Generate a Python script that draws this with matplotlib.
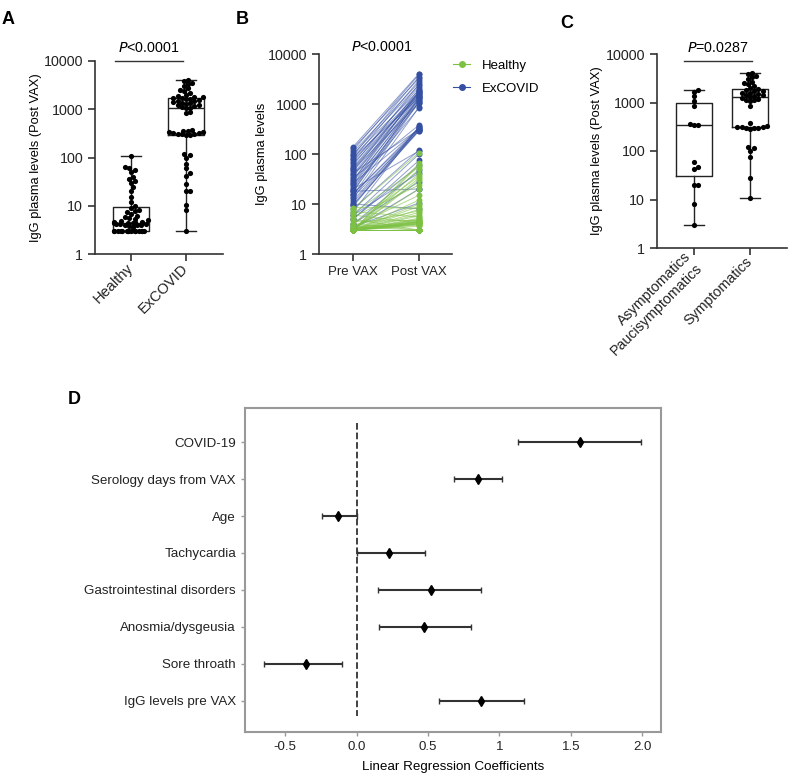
import numpy as np
import matplotlib.pyplot as plt
from matplotlib.lines import Line2D

plt.rcParams['font.family'] = ['Liberation Sans', 'DejaVu Sans']
plt.rcParams['font.size'] = 10

# ---------------- dados ----------------
# IgG pos-vacina, voluntarios saudaveis (ordem crescente)
healthy_post = [3, 3, 3, 3, 3, 3, 3, 3, 3, 3, 3, 3, 3, 3, 3, 3,
                3.6, 3.8, 3.9, 4.0, 4.0, 4.1, 4.2, 4.2, 4.3, 4.3, 4.4, 4.4,
                4.5, 4.6, 4.7, 4.8, 5.0, 5.2, 5.5, 5.8, 6.2, 6.8, 7.3, 7.8, 8.3, 9.0,
                10, 12, 15, 20, 24, 30, 33, 36, 40, 50, 55, 60, 65, 107]
healthy_pre = [3, 3, 3, 3, 3, 3, 3, 3, 3.5, 3, 3, 4, 3, 3, 5, 3,
               3, 3, 3, 3.2, 3, 3, 6, 3, 3, 3, 3.4, 3,
               3, 3, 4.5, 3, 3, 3, 7, 3, 3, 3, 3.8, 3, 8.5, 3,
               3, 3, 3.5, 3, 5.5, 3, 3, 4, 3, 3, 6.5, 3, 3, 8]

# ex-COVID: assintomaticos/paucissintomaticos e sintomaticos
asympt_post = [1810, 1670, 1360, 1070, 860, 355, 350, 340, 60, 47, 42, 20, 20, 8, 3]
asympt_pre = [30, 52, 18, 24, 13, 9, 7, 16, 5, 4, 6, 18, 3.2, 10, 3]
sympt_post = [4070, 3900, 3500, 3300, 3000, 2700, 2500, 2400, 2200, 2000,
              1900, 1800, 1750, 1700, 1600, 1550, 1500, 1450, 1400, 1350,
              1300, 1250, 1200, 1150, 1100, 1050, 850, 380, 330, 320,
              315, 310, 305, 300, 295, 290, 120, 115, 100, 75, 28, 10.5]
sympt_pre = [140, 120, 95, 130, 80, 110, 60, 100, 70, 45,
             90, 55, 35, 75, 40, 65, 30, 50, 25, 85,
             20, 38, 28, 18, 15, 48, 22, 33, 12, 26,
             16, 42, 11, 9.5, 14, 10, 8, 20, 6, 5, 4, 3.5]
excovid_post = asympt_post + sympt_post
excovid_pre = asympt_pre + sympt_pre

# regressao linear (painel D)
fatores = ['COVID-19', 'Serology days from VAX', 'Age', 'Tachycardia',
           'Gastrointestinal disorders', 'Anosmia/dysgeusia', 'Sore throath',
           'IgG levels pre VAX']
coef = [1.56, 0.85, -0.13, 0.23, 0.52, 0.475, -0.35, 0.87]
ic_low = [1.13, 0.68, -0.24, 0.0, 0.15, 0.16, -0.65, 0.575]
ic_high = [1.99, 1.02, 0.0, 0.48, 0.87, 0.80, -0.10, 1.17]

verde = '#7dc143'
azul = '#3550a3'
W, H = 800, 779


def rect(l, r, t, b):
    return [l / W, 1 - b / H, (r - l) / W, (b - t) / H]


def swarm(vals, ppd, ppx, diam=4.2, halfw=17):
    # posicoes x tipo "beeswarm" em pixels
    y = np.log10(np.array(vals, float)) * ppd
    offs = np.zeros(len(vals))
    placed = []
    for n, i in enumerate(np.argsort(y, kind='stable')):
        best = None
        for k in range(0, 30):
            for s in ([0] if k == 0 else [k, -k]):
                dx = s * diam * 0.5
                if abs(dx) > halfw:
                    continue
                if all((dx - px) ** 2 + (y[i] - py) ** 2 >= diam ** 2 for px, py in placed):
                    best = dx
                    break
            if best is not None:
                break
        if best is None:
            best = ((n * 7) % (2 * halfw + 1)) - halfw
        placed.append((best, y[i]))
        offs[i] = best / ppx
    return offs


def eixo_log(ax):
    ax.set_yscale('log')
    ax.set_ylim(1, 10000)
    ax.set_yticks([1, 10, 100, 1000, 10000])
    ax.set_yticklabels(['1', '10', '100', '1000', '10000'])
    ax.minorticks_off()
    for s in ['top', 'right']:
        ax.spines[s].set_visible(False)
    for s in ['left', 'bottom']:
        ax.spines[s].set_color('#333333')
        ax.spines[s].set_linewidth(1.2)
    ax.tick_params(axis='both', colors='#333333', labelcolor='#222222',
                   width=1.2, length=5, labelsize=10.3)


def caixas(ax, grupos, ppd, ppx):
    ax.boxplot(grupos, positions=range(len(grupos)), whis=(0, 100), widths=0.65,
               showfliers=False, capwidths=0.36,
               boxprops=dict(color='#222222', lw=1),
               whiskerprops=dict(color='#222222', lw=1),
               capprops=dict(color='#222222', lw=1),
               medianprops=dict(color='#222222', lw=1))
    for i, g in enumerate(grupos):
        ax.scatter(i + swarm(g, ppd, ppx), g, s=14, color='black', zorder=3, lw=0)


fig = plt.figure(figsize=(8, 7.79), dpi=100)

# ---------------- A ----------------
axA = fig.add_axes(rect(95, 223, 61, 254))
caixas(axA, [healthy_post, excovid_post], 48.25, 55)
eixo_log(axA)
axA.set_xlim(-0.65, 1.67)
axA.set_xticks([0, 1])
axA.set_xticklabels(['Healthy', 'ExCOVID'], rotation=45, ha='right', va='center',
                    rotation_mode='anchor', fontsize=10.5)
axA.set_ylabel('IgG plasma levels (Post VAX)', fontsize=9.3)
axA.yaxis.set_label_coords(-53 / 128, 0.5)
axA.plot([-0.29, 0.945], [10000, 10000], color='#333333', lw=1, clip_on=False)
axA.text(0.33, 18600, r'$\it{P}$<0.0001', ha='center', va='center', fontsize=10.3)

# ---------------- B ----------------
axB = fig.add_axes(rect(319, 452, 54, 254))
for a, b in zip(excovid_pre, excovid_post):
    axB.plot([0, 1], [a, b], color=azul, lw=0.7, alpha=0.55)
for a, b in zip(healthy_pre, healthy_post):
    axB.plot([0, 1], [a, b], color=verde, lw=0.7, alpha=0.6)
axB.scatter([0] * len(excovid_pre), excovid_pre, s=18, color=azul, zorder=3, lw=0)
axB.scatter([1] * len(excovid_post), excovid_post, s=18, color=azul, zorder=3, lw=0)
axB.scatter([0] * len(healthy_pre), healthy_pre, s=18, color=verde, zorder=3, lw=0)
axB.scatter([1] * len(healthy_post), healthy_post, s=18, color=verde, zorder=3, lw=0)
eixo_log(axB)
axB.set_xlim(-0.52, 1.5)
axB.set_xticks([0, 1])
axB.set_xticklabels(['Pre VAX', 'Post VAX'], fontsize=9.5)
axB.set_ylabel('IgG plasma levels', fontsize=9.3)
axB.yaxis.set_label_coords(-51 / 133, 0.5)
axB.text(0.44, 13800, r'$\it{P}$<0.0001', ha='center', va='center', fontsize=10.3)
leg = [Line2D([0], [0], color=verde, marker='o', ms=4, lw=0.8, label='Healthy'),
       Line2D([0], [0], color=azul, marker='o', ms=4, lw=0.8, label='ExCOVID')]
axB.legend(handles=leg, loc='upper left', bbox_to_anchor=(0.92, 1.03), frameon=False,
           fontsize=9.5, handlelength=1.3, handletextpad=0.85, labelspacing=0.8)

# ---------------- C ----------------
axC = fig.add_axes(rect(657, 787, 54, 248))
caixas(axC, [asympt_post, sympt_post], 48.5, 56)
eixo_log(axC)
axC.set_xlim(-0.66, 1.66)
axC.set_xticks([0, 1])
axC.set_xticklabels(['Asymptomatics\nPaucisymptomatics', 'Symptomatics'], rotation=45,
                    ha='right', va='center', rotation_mode='anchor',
                    multialignment='right', fontsize=10.3)
axC.set_ylabel('IgG plasma levels (Post VAX)', fontsize=9.3)
axC.yaxis.set_label_coords(-54 / 130, 0.5)
axC.plot([-0.18, 1.04], [7200, 7200], color='#333333', lw=1, clip_on=False)
axC.text(0.43, 13300, r'$\it{P}$=0.0287', ha='center', va='center', fontsize=10.3)

# ---------------- D ----------------
axD = fig.add_axes(rect(245, 661, 408, 732))
yy = np.arange(len(fatores))
c = np.array(coef)
axD.errorbar(c, yy, xerr=[c - np.array(ic_low), np.array(ic_high) - c], fmt='none',
             ecolor='#333333', elinewidth=1.5, capsize=2.5, capthick=1)
axD.plot(c, yy, 'd', color='black', ms=5.5, zorder=3)
axD.plot([0, 0], [-0.52, 7.4], '--', color='#333333', lw=1.3)
axD.set_ylim(7.84, -0.92)
axD.set_xlim(-0.78, 2.13)
axD.set_yticks(yy)
axD.set_yticklabels(fatores, fontsize=9.6)
axD.set_xticks([-0.5, 0, 0.5, 1, 1.5, 2.0])
axD.set_xticklabels(['-0.5', '0.0', '0.5', '1', '1.5', '2.0'], fontsize=9.5)
axD.set_xlabel('Linear Regression Coefficients', fontsize=9.6, labelpad=6)
for s in axD.spines.values():
    s.set_color('#999999')
    s.set_linewidth(1.5)
axD.tick_params(axis='both', colors='#999999', labelcolor='#222222', length=3, width=1)

# letras dos paineis
for txt, x, y in [('A', 8, 19), ('B', 242, 19), ('C', 567, 23), ('D', 74, 399)]:
    fig.text(x / W, 1 - y / H, txt, fontsize=13, fontweight='bold', ha='center', va='center')

plt.savefig('out.png', dpi=100)
